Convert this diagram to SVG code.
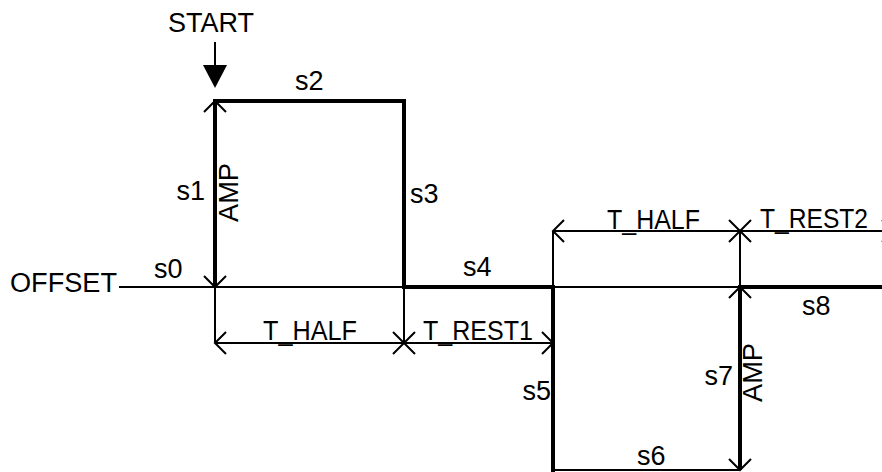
<svg xmlns="http://www.w3.org/2000/svg" width="882" height="472" viewBox="0 0 882 472">
  <style>
    text { font-family: "Liberation Sans", Arial, sans-serif; font-size: 27px; fill: #000; }
    .thin { stroke: #000; stroke-width: 2; fill: none; }
    .thick { stroke: #000; stroke-width: 4; fill: none; stroke-linecap: square; }
    .dim { stroke: #000; stroke-width: 2; fill: none; marker-start: url(#open); marker-end: url(#open); }
  </style>
  <defs>
    <marker id="open" viewBox="-12 -12 14 24" refX="0" refY="0" markerWidth="14" markerHeight="24" markerUnits="userSpaceOnUse" orient="auto-start-reverse">
      <path d="M-11,-11 L0,0 L-11,11" stroke="#000" stroke-width="2" fill="none"/>
    </marker>
  </defs>
  <rect width="882" height="472" fill="#fff"/>

  <g id="baseline">
    <line class="thin" x1="119" y1="287" x2="882" y2="287"/>
  </g>

  <g id="waveform">
    <path class="thick" d="M404,101 L215,101"/>
    <path class="thick" d="M404,101 L404,287 L553,287 L553,470"/>
    <line class="thin" x1="553" y1="470" x2="740" y2="470"/>
    <path class="thick" d="M740,287 L882,287"/>
  </g>

  <g id="connectors">
    <!-- START arrow -->
    <line class="thin" x1="215" y1="42" x2="215" y2="68"/>
    <polygon points="203,65 227,65 215,88" fill="#000"/>
    <!-- AMP dimensions (s1, s7) -->
    <line x1="215" y1="101" x2="215" y2="287" stroke="#000" stroke-width="4" marker-start="url(#open)" marker-end="url(#open)"/>
    <line x1="740" y1="287" x2="740" y2="470" stroke="#000" stroke-width="4" marker-start="url(#open)" marker-end="url(#open)"/>
    <!-- extension lines -->
    <line class="thin" x1="215" y1="287" x2="215" y2="343"/>
    <line class="thin" x1="404" y1="287" x2="404" y2="343"/>
    <line class="thin" x1="553" y1="231" x2="553" y2="287"/>
    <line class="thin" x1="740" y1="231" x2="740" y2="287"/>
    <!-- dimension lines -->
    <line class="dim" x1="215" y1="343" x2="404" y2="343"/>
    <line class="dim" x1="404" y1="343" x2="553" y2="343"/>
    <line class="dim" x1="553" y1="231" x2="740" y2="231"/>
    <line class="dim" x1="740" y1="231" x2="893" y2="231"/>
  </g>

  <g id="labels">
    <text x="168" y="32" textLength="86" lengthAdjust="spacingAndGlyphs">START</text>
    <text x="10" y="292" textLength="107" lengthAdjust="spacingAndGlyphs">OFFSET</text>
    <text x="154" y="278">s0</text>
    <text x="205" y="200" text-anchor="end">s1</text>
    <text transform="translate(238,222) rotate(-90)" textLength="59" lengthAdjust="spacingAndGlyphs">AMP</text>
    <text x="295" y="90">s2</text>
    <text x="410" y="203">s3</text>
    <text x="463" y="276">s4</text>
    <text x="551" y="400" text-anchor="end">s5</text>
    <text x="637" y="465">s6</text>
    <text x="733" y="385" text-anchor="end">s7</text>
    <text transform="translate(762,402) rotate(-90)" textLength="59" lengthAdjust="spacingAndGlyphs">AMP</text>
    <text x="802" y="315">s8</text>
    <text x="263" y="340" textLength="94" lengthAdjust="spacingAndGlyphs">T_HALF</text>
    <text x="423" y="340" textLength="110" lengthAdjust="spacingAndGlyphs">T_REST1</text>
    <text x="607" y="229" textLength="93" lengthAdjust="spacingAndGlyphs">T_HALF</text>
    <text x="760" y="228" textLength="108" lengthAdjust="spacingAndGlyphs">T_REST2</text>
  </g>
</svg>
